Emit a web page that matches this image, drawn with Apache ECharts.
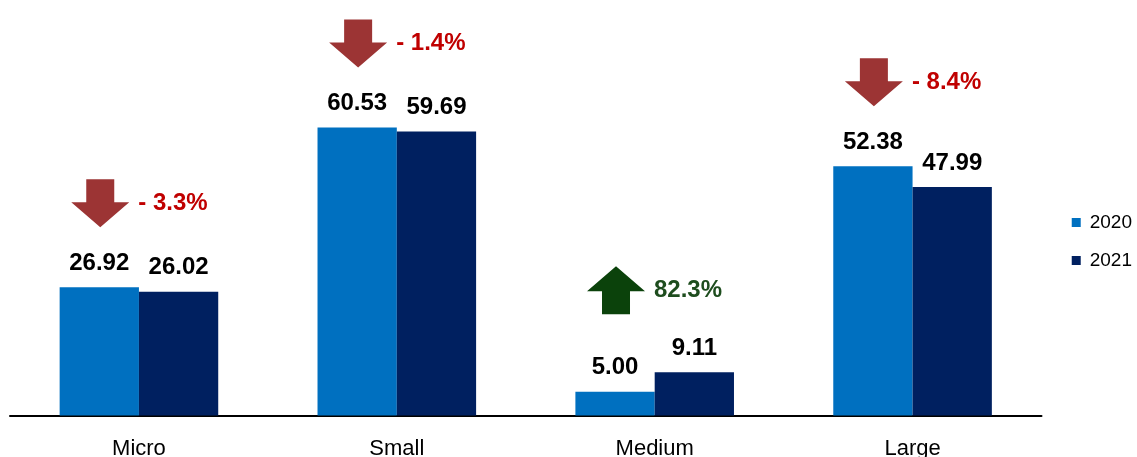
<!DOCTYPE html>
<html>
<head>
<meta charset="utf-8">
<script src="https://cdn.jsdelivr.net/npm/echarts@6/dist/echarts.min.js"></script>
<style>html,body{margin:0;padding:0;background:#fff;}#c{width:1137px;height:457px;}</style>
</head>
<body>
<div id="c"></div>
<script>
const categories = ['Micro', 'Small', 'Medium', 'Large'];
const values2020 = [26.92, 60.53, 5.00, 52.38];
const values2021 = [26.02, 59.69, 9.11, 47.99];
const changePct = [-3.3, -1.4, 82.3, -8.4];
const seriesNames = ['2020', '2021'];

const FONT = '"Liberation Sans Narrow", "Arial Narrow", "Liberation Sans", Arial, sans-serif';
const chart = echarts.init(document.getElementById('c'));

const annoData = categories.map((c, i) => [i, Math.max(values2020[i], values2021[i]), changePct[i]]);

function fmtPct(v) {
  return v < 0 ? '- ' + Math.abs(v).toFixed(1) + '%' : v.toFixed(1) + '%';
}

const valueLabel = {
  show: true, position: 'top', distance: 12,
  fontFamily: FONT, fontWeight: 'bold', fontSize: 24, color: '#000',
  formatter: p => p.value.toFixed(2)
};

chart.setOption({
  animation: false,
  backgroundColor: '#fff',
  grid: { left: 10, right: 95.5, top: 34.7, bottom: 41.5, containLabel: false, outerBoundsMode: 'none' },
  legend: {
    orient: 'vertical',
    right: 5,
    top: 213,
    padding: 0,
    itemWidth: 9,
    itemHeight: 9,
    itemGap: 19,
    icon: 'rect',
    textStyle: { fontFamily: FONT, fontSize: 19, color: '#000', padding: [0, 0, 0, 4] },
    data: seriesNames
  },
  xAxis: {
    type: 'category',
    data: categories,
    axisLine: { lineStyle: { color: '#000', width: 2 } },
    axisTick: { show: false },
    axisLabel: { fontFamily: FONT, fontSize: 22, color: '#000', margin: 22 }
  },
  yAxis: {
    type: 'value', min: 0, max: 80,
    show: false,
    splitLine: { show: false }
  },
  series: [
    {
      name: seriesNames[0], type: 'bar', data: values2020,
      barGap: '0%', barCategoryGap: '38.5%',
      itemStyle: { color: '#0070C0' },
      label: valueLabel
    },
    {
      name: seriesNames[1], type: 'bar', data: values2021,
      itemStyle: { color: '#002060' },
      label: valueLabel
    },
    {
      type: 'custom',
      data: annoData,
      encode: { x: 0, y: 1 },
      silent: true,
      z: 10,
      renderItem: function (params, api) {
        const top = api.value(1);
        const ch = api.value(2);
        const p = api.coord([api.value(0), top]);
        const band = api.size([1, 0])[0];
        const cx = p[0] - band * 0.15;
        const H = 48, headH = 25, shaftW = 28, headW = 58;
        let pts, mid;
        if (ch < 0) {
          const yTip = p[1] - 60;
          const yTop = yTip - H;
          const yh = yTip - headH;
          pts = [[cx - shaftW / 2, yTop], [cx + shaftW / 2, yTop], [cx + shaftW / 2, yh], [cx + headW / 2, yh], [cx, yTip], [cx - headW / 2, yh], [cx - shaftW / 2, yh]];
          mid = (yTop + yTip) / 2;
        } else {
          const yBot = p[1] - 58;
          const yTip = yBot - H;
          const yh = yTip + headH;
          pts = [[cx - shaftW / 2, yBot], [cx + shaftW / 2, yBot], [cx + shaftW / 2, yh], [cx + headW / 2, yh], [cx, yTip], [cx - headW / 2, yh], [cx - shaftW / 2, yh]];
          mid = (yTip + yBot) / 2;
        }
        const arrowColor = ch < 0 ? '#9C3434' : '#0B420B';
        const textColor = ch < 0 ? '#C00000' : '#1E4D1E';
        return {
          type: 'group',
          children: [
            { type: 'polygon', shape: { points: pts }, style: { fill: arrowColor } },
            { type: 'text', x: cx + 38, y: mid, style: { text: fmtPct(ch), fill: textColor, fontFamily: FONT, fontWeight: 'bold', fontSize: 24, verticalAlign: 'middle', align: 'left' } }
          ]
        };
      }
    }
  ]
});
</script>
</body>
</html>
